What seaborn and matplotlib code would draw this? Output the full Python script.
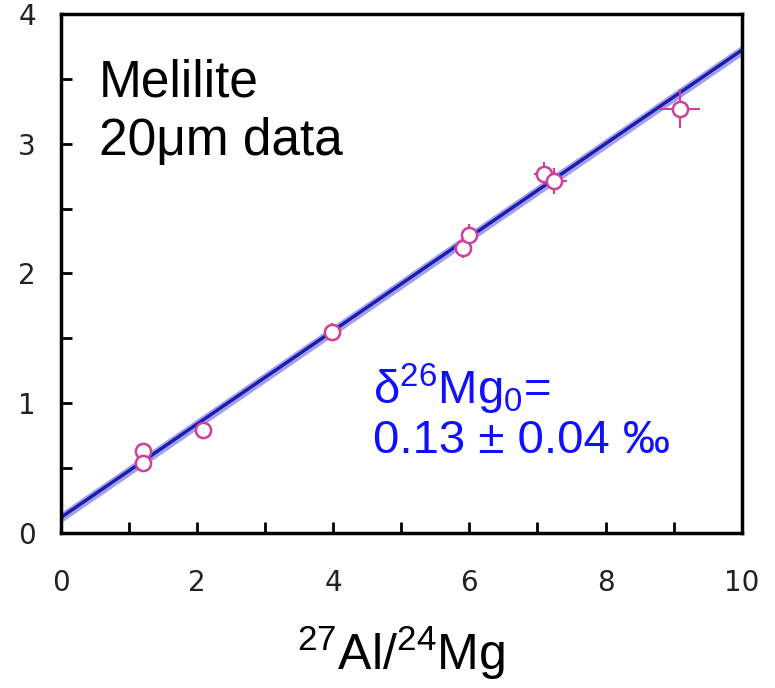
import matplotlib
matplotlib.use("Agg")
import matplotlib.pyplot as plt
import seaborn as sns
import numpy as np
import pandas as pd

# ---- data ----
al_mg = [1.20, 1.20, 2.09, 3.98, 5.90, 6.00, 7.10, 7.25, 9.09]
d26mg = [0.63, 0.54, 0.79, 1.55, 2.20, 2.30, 2.77, 2.71, 3.27]
x_err = [0.10, 0.10, 0.10, 0.10, 0.12, 0.12, 0.15, 0.18, 0.30]
y_err = [0.06, 0.06, 0.06, 0.07, 0.08, 0.08, 0.09, 0.10, 0.15]
fit_x = [0.0, 10.0]
fit_y = [0.12, 3.72]
fit_band = [0.04, 0.04]
x_ticks = [0, 2, 4, 6, 8, 10]
y_ticks = [0, 1, 2, 3, 4]

sns.set_theme(style="white")
plt.rcParams["font.family"] = ["Liberation Sans", "DejaVu Sans"]
plt.rcParams["mathtext.fontset"] = "custom"
plt.rcParams["mathtext.rm"] = "Liberation Sans"
plt.rcParams["mathtext.it"] = "Liberation Sans"

fig = plt.figure(figsize=(7.75, 6.88), dpi=100)
ax = fig.add_axes([0.0787, 0.2253, 0.957 - 0.0787, 0.9797 - 0.2253])

df = pd.DataFrame({"x": al_mg, "y": d26mg})
fit = pd.DataFrame({"x": fit_x, "y": fit_y})

lo = np.array(fit_y) - np.array(fit_band)
hi = np.array(fit_y) + np.array(fit_band)
ax.fill_between(fit_x, lo, hi, color="#9090ee", alpha=0.85, lw=0, zorder=1)
sns.lineplot(data=fit, x="x", y="y", ax=ax, color="#1c1ca8", lw=2.4, zorder=2)

mag = "#d0409a"
ax.errorbar(al_mg, d26mg, xerr=x_err, yerr=y_err, fmt="none",
            ecolor=mag, elinewidth=1.5, capsize=0, zorder=3)
sns.scatterplot(data=df, x="x", y="y", ax=ax, s=120, marker="o",
                facecolor="white", edgecolor=mag, linewidth=1.8, zorder=4)

ax.set_xlim(0, 10)
ax.set_ylim(0, 4)
ax.set_xticks(x_ticks)
ax.set_xticks(range(0, 11), minor=True)
ax.set_yticks(y_ticks)
ax.set_yticks(np.arange(0, 4.01, 0.5), minor=True)
ax.tick_params(axis="both", which="both", direction="in", length=8, width=2,
               color="black", bottom=True, left=True, top=False, right=False)
ax.tick_params(axis="both", which="major", labelsize=20, labelcolor="#222222")
ax.tick_params(axis="x", which="major", pad=26)
ax.tick_params(axis="y", which="major", pad=18)
for lab in ax.get_xticklabels() + ax.get_yticklabels():
    lab.set_fontfamily("DejaVu Sans")
for s in ax.spines.values():
    s.set_color("black")
    s.set_linewidth(2.5)

ax.set_ylabel("")
ax.set_xlabel(r"$^{27}$Al/$^{24}$Mg", fontsize=36, labelpad=19, color="black")

ax.text(0.056, 0.915, "Melilite\n20\u03bcm data", transform=ax.transAxes,
        fontsize=37, va="top", ha="left", color="black", linespacing=1.25)
ax.text(0.458, 0.33, "\u03b4$^{26}$Mg$_0$=\n0.13 \u00b1 0.04 \u2030", transform=ax.transAxes,
        fontsize=34, va="top", ha="left", color="#1010ff", linespacing=1.05)

fig.savefig("out.png", dpi=100)
